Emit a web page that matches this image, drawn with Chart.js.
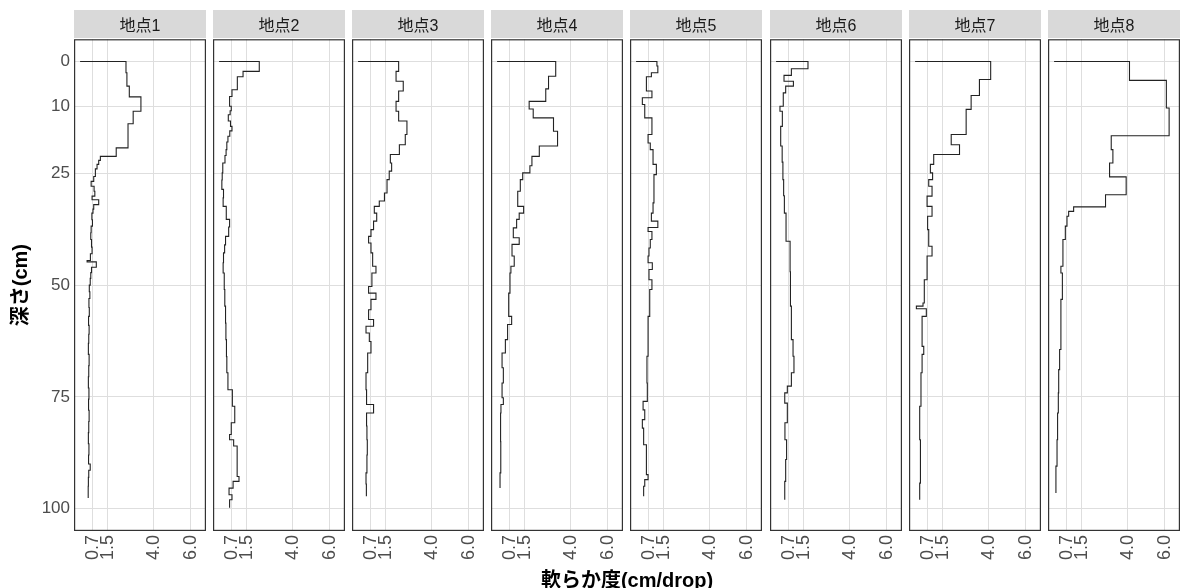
<!DOCTYPE html>
<html>
<head>
<meta charset="utf-8">
<script src="https://cdn.jsdelivr.net/npm/chart.js@4/dist/chart.umd.min.js"></script>
<style>
  body { margin: 0; background: #fff; width: 1187px; height: 588px; position: relative; overflow: hidden; }
  canvas.panel { position: absolute; top: 0; }
  #xtitle {
    position: absolute; left: 74px; width: 1106px; top: 564px; line-height: 24px;
    text-align: center; color: #000; z-index: 2;
    font: bold 20px "Liberation Sans", "Noto Sans CJK JP", sans-serif;
  }
</style>
</head>
<body>
<div id="xtitle">軟らか度(cm/drop)</div>
<script>
// depth (cm) where each step ends, and the softness value held down to that depth
const depth1 = [0, 2.5, 5.5, 7.9, 11.1, 13.9, 19.3, 21.2, 22.1, 23, 24, 25.7, 26.8, 27.9, 29, 30.1, 30.9, 32, 33, 33.9, 35.4, 36.8, 38.3, 39.8, 41.5, 43, 44.5, 44.8, 46, 47.2, 48.5, 50, 51.5, 53, 55, 57, 59, 61, 63, 65.5, 68, 70.5, 73, 75.5, 78, 80.5, 83, 85.5, 88, 90, 91.4, 93, 95, 97.6];
const soft1 = [0, 2.49, 2.54, 2.67, 3.30, 2.88, 2.60, 1.96, 1.10, 1.01, 0.92, 0.83, 0.74, 0.60, 0.76, 0.80, 0.65, 1.01, 0.74, 0.70, 0.64, 0.67, 0.60, 0.58, 0.62, 0.65, 0.56, 0.38, 0.88, 0.62, 0.58, 0.55, 0.50, 0.53, 0.48, 0.50, 0.46, 0.49, 0.47, 0.45, 0.49, 0.47, 0.45, 0.48, 0.46, 0.49, 0.47, 0.45, 0.48, 0.46, 0.55, 0.47, 0.45, 0.44];

const depth2 = [0, 2.2, 3.4, 6.3, 7.8, 10, 11, 11.9, 13.3, 14.5, 15.5, 16.7, 18, 19.7, 21, 22.7, 24.9, 26.5, 28.6, 30.5, 32.4, 35.3, 37, 39.1, 41, 42.8, 45, 47.3, 51, 54.7, 58.5, 62.2, 66, 69.6, 73.4, 77.1, 80.8, 83.4, 84.6, 86, 92.8, 93.9, 95.4, 96.9, 98, 99.8];
const soft2 = [0, 2.18, 1.30, 0.99, 0.70, 0.57, 0.66, 0.60, 0.50, 0.62, 0.70, 0.58, 0.48, 0.42, 0.38, 0.32, 0.20, 0.17, 0.15, 0.24, 0.22, 0.39, 0.57, 0.52, 0.35, 0.30, 0.24, 0.22, 0.28, 0.31, 0.35, 0.37, 0.40, 0.42, 0.48, 0.72, 0.85, 0.66, 0.57, 0.79, 0.98, 1.08, 0.76, 0.54, 0.70, 0.57];

const depth3 = [0, 2.2, 4.4, 6.6, 8.9, 11.1, 13.3, 16.3, 18.6, 20.8, 22.7, 24.5, 26.4, 29.4, 31.2, 32.4, 33.9, 35.7, 37.6, 39.1, 40.6, 42.8, 45.8, 47.3, 50.3, 51.8, 53.2, 55.5, 57.7, 59.2, 60.7, 62.6, 65.2, 69.6, 73.4, 76.7, 78.6, 81.5, 84.6, 88, 92, 94.5, 97.2];
const soft3 = [0, 2.20, 2.06, 2.45, 2.20, 2.06, 2.20, 2.65, 2.56, 2.24, 1.75, 1.82, 1.69, 1.57, 1.43, 1.15, 0.88, 1.01, 0.84, 0.70, 0.57, 0.70, 0.79, 0.97, 0.75, 0.57, 0.97, 0.70, 0.57, 0.84, 0.43, 0.61, 0.70, 0.52, 0.43, 0.46, 0.84, 0.46, 0.48, 0.50, 0.48, 0.43, 0.45];

const depth4 = [0, 3.3, 6.1, 8.9, 10.6, 12.6, 15.6, 18.9, 21.2, 23.3, 24.9, 26.4, 29, 32.4, 33.9, 35.3, 37.2, 39.4, 40.9, 43.5, 45.8, 47.3, 51.8, 57, 58.8, 62.2, 65.2, 68.5, 71.9, 75.2, 76.7, 78.6, 85, 92, 95.4];
const soft4 = [0, 3.18, 2.79, 2.64, 1.74, 1.96, 3.06, 3.28, 2.29, 1.89, 1.78, 1.39, 1.26, 1.12, 1.44, 1.20, 1.06, 0.88, 1.20, 0.81, 0.93, 0.75, 0.70, 0.63, 0.79, 0.57, 0.45, 0.27, 0.34, 0.27, 0.34, 0.21, 0.19, 0.20, 0.16];

const depth5 = [0, 1.0, 2.5, 3.4, 6.6, 8.1, 9.6, 12.6, 16.3, 18.2, 19.7, 23, 25.3, 31.6, 33.9, 35.7, 37.1, 38, 39.8, 41.7, 43.5, 45, 46.5, 48.8, 51, 57, 65.9, 71.9, 76, 77.9, 80.1, 82, 85.7, 92.4, 93.5, 95, 97.2];
const soft5 = [0, 1.13, 1.18, 0.83, 0.56, 0.86, 0.34, 0.47, 0.86, 0.65, 0.77, 0.92, 1.10, 0.97, 0.92, 0.83, 1.18, 0.65, 0.86, 0.77, 0.70, 0.65, 0.88, 0.70, 0.86, 0.74, 0.65, 0.59, 0.61, 0.38, 0.47, 0.34, 0.41, 0.56, 0.65, 0.47, 0.41];

const depth6 = [0, 1.6, 3.1, 4.4, 5.5, 7, 10, 11.1, 14.5, 18.9, 22.5, 26.4, 30, 33.9, 40.2, 47, 54.7, 62.2, 65.9, 69.6, 72.6, 74.1, 76.4, 80.8, 84.6, 89, 93.9, 98];
const soft6 = [0, 1.73, 0.83, 0.43, 0.94, 0.52, 0.39, 0.21, 0.34, 0.25, 0.33, 0.37, 0.41, 0.45, 0.54, 0.76, 0.78, 0.83, 0.92, 0.97, 0.83, 0.61, 0.47, 0.61, 0.48, 0.57, 0.52, 0.47];

const depth7 = [0, 4.0, 7.6, 10.7, 16.3, 18.6, 20.8, 23, 24.9, 26.4, 27.9, 30.1, 32.4, 34.6, 37.6, 41.3, 43.5, 48.8, 54, 54.7, 55.3, 57, 63.7, 65.5, 69.6, 77.1, 84.6, 94.3, 98];
const soft7 = [0, 4.10, 3.49, 3.04, 2.77, 1.96, 2.41, 1.01, 0.83, 0.95, 0.74, 0.92, 0.65, 0.92, 0.68, 0.74, 0.92, 0.65, 0.50, 0.43, 0.07, 0.61, 0.38, 0.47, 0.38, 0.32, 0.25, 0.29, 0.25];

const depth8 = [0, 4.2, 10.4, 16.6, 19.7, 22.7, 25.8, 29.8, 32.5, 33.5, 34.6, 36.8, 39.8, 45.8, 47.3, 53.2, 64.4, 68.9, 74.1, 78.6, 84.6, 90.5, 96.5];
const soft8 = [0, 4.09, 6.09, 6.24, 3.10, 3.19, 3.01, 3.91, 2.79, 1.06, 0.79, 0.70, 0.61, 0.48, 0.37, 0.45, 0.37, 0.30, 0.25, 0.23, 0.19, 0.16, 0.10];

const siteNames = ['地点1', '地点2', '地点3', '地点4', '地点5', '地点6', '地点7', '地点8'];
const siteDepths = [depth1, depth2, depth3, depth4, depth5, depth6, depth7, depth8];
const siteSoft = [soft1, soft2, soft3, soft4, soft5, soft6, soft7, soft8];

const xTicks = [0.7, 1.5, 4.0, 6.0];
const yTicks = [0, 10, 25, 50, 75, 100];

const FONT = '"Liberation Sans", "Noto Sans CJK JP", sans-serif';

// grey strip behind the facet title + dark frame round the panel
const facetPlugin = {
  id: 'facet',
  beforeDraw(chart) {
    const a = chart.chartArea;
    const t = chart.titleBlock;
    const ctx = chart.ctx;
    ctx.save();
    ctx.fillStyle = '#d9d9d9';
    ctx.fillRect(a.left, t.top, a.right - a.left, t.bottom - t.top - 1.2);
    ctx.restore();
  },
  afterDraw(chart) {
    const a = chart.chartArea;
    const ctx = chart.ctx;
    ctx.save();
    ctx.strokeStyle = '#333333';
    ctx.lineWidth = 1.2;
    ctx.strokeRect(a.left + 0.6, a.top + 0.6, a.right - a.left - 1.2, a.bottom - a.top - 1.2);
    ctx.restore();
  }
};

function makePanel(i) {
  const yAxisWidth = i === 0 ? 74 : 0;
  const left = i === 0 ? 0 : Math.round(74 + i * 139.1);
  const canvas = document.createElement('canvas');
  canvas.className = 'panel';
  canvas.width = yAxisWidth + 132;
  canvas.height = 588;
  canvas.style.left = left + 'px';
  document.body.appendChild(canvas);

  const points = [];
  for (let k = 0; k < siteDepths[i].length; k++) {
    points.push({ x: siteSoft[i][k], y: siteDepths[i][k] });
  }

  new Chart(canvas, {
    type: 'line',
    data: {
      datasets: [{
        data: points,
        stepped: 'before',
        borderColor: '#222222',
        borderWidth: 1.1,
        pointRadius: 0,
        fill: false
      }]
    },
    plugins: [facetPlugin],
    options: {
      responsive: false,
      animation: false,
      devicePixelRatio: 1,
      layout: { padding: { top: 10, left: 0, right: 0, bottom: 0 } },
      plugins: {
        legend: { display: false },
        tooltip: { enabled: false },
        title: {
          display: true,
          text: siteNames[i],
          fullSize: false,
          color: '#1a1a1a',
          font: { family: FONT, size: 16, weight: 'normal', lineHeight: 1.2 },
          padding: { top: 7, bottom: 3 }
        }
      },
      scales: {
        x: {
          type: 'linear',
          min: -0.33,
          max: 6.83,
          afterBuildTicks: s => { s.ticks = xTicks.map(v => ({ value: v })); },
          afterFit: s => { s.height = 57; s.paddingLeft = 0; s.paddingRight = 0; },
          grid: { color: '#dedede', lineWidth: 1, drawTicks: false },
          border: { display: false },
          ticks: {
            autoSkip: false,
            minRotation: 90,
            maxRotation: 90,
            padding: 4,
            color: '#4d4d4d',
            font: { family: FONT, size: 18, lineHeight: 0.75 },
            callback: v => v.toFixed(1)
          }
        },
        y: {
          type: 'linear',
          reverse: true,
          min: -5,
          max: 105,
          afterBuildTicks: s => { s.ticks = yTicks.map(v => ({ value: v })); },
          afterFit: s => { s.width = yAxisWidth; s.paddingTop = 0; s.paddingBottom = 0; },
          grid: { color: '#dedede', lineWidth: 1, drawTicks: false },
          border: { display: false },
          ticks: {
            display: i === 0,
            padding: 4,
            color: '#4d4d4d',
            font: { family: FONT, size: 17 }
          },
          title: {
            display: i === 0,
            text: '深さ(cm)',
            color: '#000000',
            font: { family: FONT, size: 20, weight: 'bold' },
            padding: { top: 9, bottom: 0 }
          }
        }
      }
    }
  });
}

for (let i = 0; i < siteNames.length; i++) {
  makePanel(i);
}
</script>
</body>
</html>
